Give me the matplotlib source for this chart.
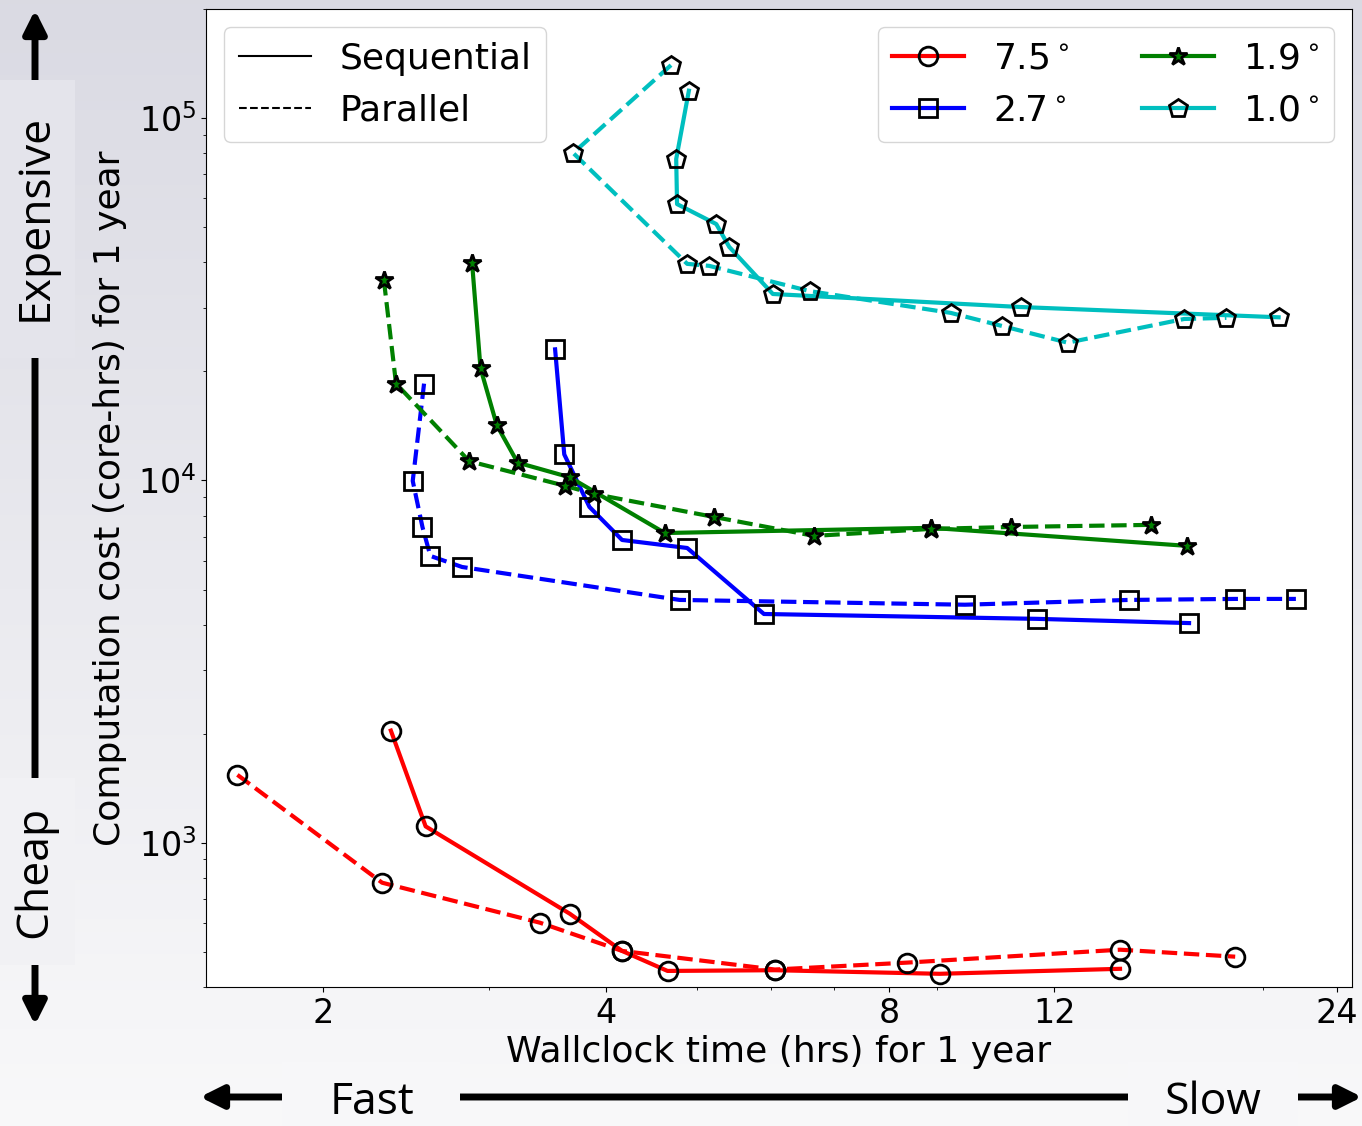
import numpy as np
import matplotlib
matplotlib.use('Agg')
import matplotlib.pyplot as plt
from matplotlib.lines import Line2D
from matplotlib.patches import Rectangle, FancyArrowPatch
from matplotlib.ticker import NullFormatter

# wallclock hours / core-hours per simulated year
res_labels = [r'7.5$^\circ$', r'2.7$^\circ$', r'1.9$^\circ$', r'1.0$^\circ$']

seq_75_time = [2.36, 2.57, 3.66, 4.16, 4.65, 6.05, 9.06, 14.1]
seq_75_cost = [2040, 1110, 637, 503, 443, 445, 435, 449]
par_75_time = [1.62, 2.31, 3.40, 4.16, 6.05, 8.36, 14.1, 18.7]
par_75_cost = [1540, 776, 602, 503, 447, 467, 507, 485]

seq_27_time = [3.53, 3.61, 3.84, 4.16, 4.88, 5.89, 11.5, 16.7]
seq_27_cost = [23000, 11800, 8450, 6850, 6510, 4280, 4150, 4040]
par_27_time = [2.56, 2.49, 2.55, 2.60, 2.81, 4.79, 9.64, 14.4, 18.7, 21.7]
par_27_cost = [18500, 9970, 7440, 6190, 5770, 4680, 4540, 4680, 4710, 4710]

seq_19_time = [2.88, 2.94, 3.06, 3.22, 3.66, 4.62, 8.87, 16.6]
seq_19_cost = [39800, 20400, 14200, 11200, 10200, 7160, 7400, 6600]
par_19_time = [2.32, 2.39, 2.86, 3.62, 3.88, 5.21, 6.66, 8.87, 10.8, 15.2]
par_19_cost = [35700, 18500, 11300, 9660, 9180, 7930, 7030, 7350, 7440, 7540]

seq_10_time = [4.90, 4.75, 4.76, 5.24, 5.41, 6.02, 11.05, 20.8]
seq_10_cost = [119000, 77100, 57900, 51000, 44100, 32700, 30100, 28200]
par_10_time = [4.69, 3.69, 4.88, 5.15, 6.59, 9.31, 10.55, 12.4, 16.5, 18.3]
par_10_cost = [140000, 80100, 39600, 39100, 33300, 29000, 26700, 24000, 27900, 28100]

seq_times = [seq_75_time, seq_27_time, seq_19_time, seq_10_time]
seq_costs = [seq_75_cost, seq_27_cost, seq_19_cost, seq_10_cost]
par_times = [par_75_time, par_27_time, par_19_time, par_10_time]
par_costs = [par_75_cost, par_27_cost, par_19_cost, par_10_cost]

colors = ['r', 'b', 'g', 'c']
markers = ['o', 's', '*', 'p']
facecols = ['none', 'none', 'g', 'none']

W, H = 1362, 1126
fig = plt.figure(figsize=(W / 100, H / 100), dpi=100)


def fx(px):
    return px / W


def fy(py):
    return 1 - py / H


# slide-like gray gradient behind everything
bg = fig.add_axes([0, 0, 1, 1], zorder=-5)
top = np.array([0.855, 0.855, 0.89])
bottom = np.array([0.975, 0.975, 0.98])
t = np.linspace(0, 1, 256)[:, None, None]
bg.imshow(top + (bottom - top) * t, aspect='auto', extent=[0, 1, 0, 1], origin='upper')
bg.set_axis_off()

ax = fig.add_axes([fx(206), fy(987), (1352 - 206) / W, (987 - 9) / H])
ax.set_facecolor('white')

seq_lines = []
for i in range(4):
    ln, = ax.plot(seq_times[i], seq_costs[i], color=colors[i], ls='-', lw=3,
                  marker=markers[i], ms=13.5, mec='k', mew=2, mfc=facecols[i])
    ax.plot(par_times[i], par_costs[i], color=colors[i], ls='--', lw=3,
            marker=markers[i], ms=13.5, mec='k', mew=2, mfc=facecols[i])
    seq_lines.append(ln)

ax.set_xscale('log')
ax.set_yscale('log')
ax.set_xlim(1.5, 24.9)
ax.set_ylim(400, 2e5)
ax.set_xticks([2, 4, 8, 12, 24])
ax.set_xticklabels(['2', '4', '8', '12', '24'])
ax.xaxis.set_minor_formatter(NullFormatter())
ax.yaxis.set_minor_formatter(NullFormatter())
ax.tick_params(labelsize=24)

ax.set_xlabel('Wallclock time (hrs) for 1 year', fontsize=26)
ax.set_ylabel('Computation cost (core-hrs) for 1 year', fontsize=26, labelpad=8)

style_handles = [Line2D([], [], color='k', lw=1.5, ls='-'),
                 Line2D([], [], color='k', lw=1.5, ls='--')]
leg1 = ax.legend(style_handles, ['Sequential', 'Parallel'], loc='upper left', fontsize=26)
ax.add_artist(leg1)
ax.legend(seq_lines, res_labels, loc='upper right', ncol=2, fontsize=26)

# cost / speed arrows outside the axes
varrow = FancyArrowPatch((fx(35), fy(1025)), (fx(35), fy(10)), transform=fig.transFigure,
                         arrowstyle='<|-|>', mutation_scale=34, lw=5, color='k',
                         shrinkA=0, shrinkB=0, zorder=1)
harrow = FancyArrowPatch((fx(200), fy(1097)), (fx(1362), fy(1097)), transform=fig.transFigure,
                         arrowstyle='<|-|>', mutation_scale=34, lw=5, color='k',
                         shrinkA=0, shrinkB=0, zorder=1)
fig.add_artist(varrow)
fig.add_artist(harrow)

boxes = [(0, 80, 75, 358, (0.895, 0.895, 0.92)),
         (0, 778, 75, 965, (0.945, 0.945, 0.955)),
         (282, 1062, 460, 1130, (0.97, 0.97, 0.975)),
         (1128, 1062, 1298, 1130, (0.97, 0.97, 0.975))]
for x0, y0, x1, y1, fc in boxes:
    fig.add_artist(Rectangle((fx(x0), fy(y1)), fx(x1) - fx(x0), fy(y0) - fy(y1),
                             transform=fig.transFigure, facecolor=fc, edgecolor='none', zorder=2))

side_font = dict(fontsize=32, family='Open Sans', ha='center', va='center', zorder=3)
fig.text(fx(35), fy(217), 'Expensive', rotation=90, **side_font)
fig.text(fx(35), fy(872), 'Cheap', rotation=90, **side_font)
fig.text(fx(372), fy(1103), 'Fast', **side_font)
fig.text(fx(1213), fy(1103), 'Slow', **side_font)

fig.savefig('out.png', dpi=100)
